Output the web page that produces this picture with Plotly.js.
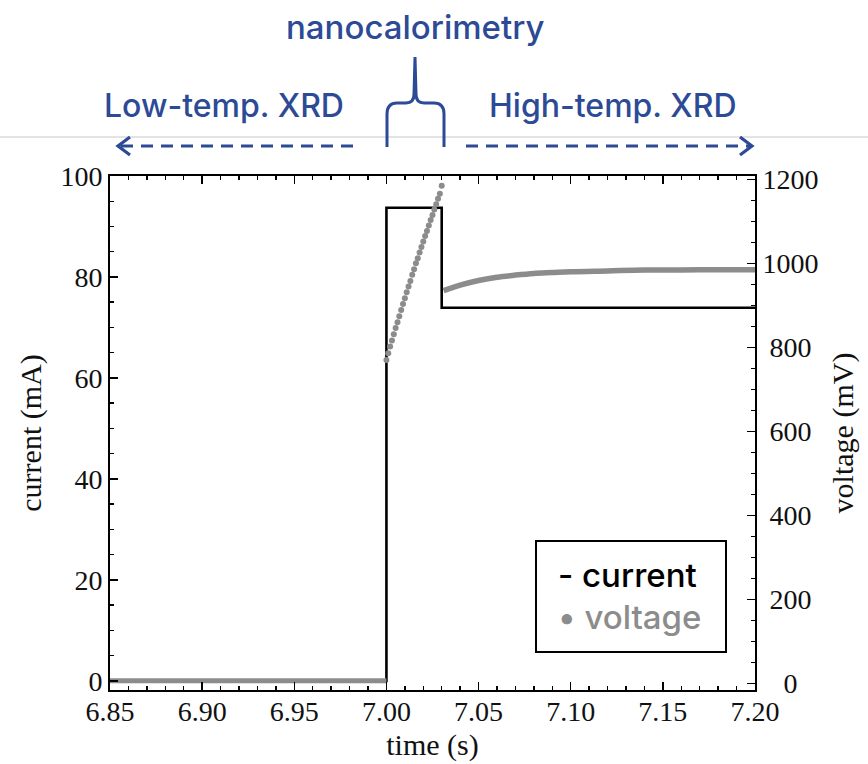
<!DOCTYPE html>
<html>
<head>
<meta charset="utf-8">
<script src="https://cdn.plot.ly/plotly-3.0.1.min.js"></script>
<style>
  html, body { margin: 0; padding: 0; background: #fff; }
  #chart { width: 868px; height: 764px; }
</style>
</head>
<body>
<div id="chart"></div>
<script>
// ---- data ----
const currentTime = [6.85, 7.00, 7.03, 7.20];
const currentValues = [0, 93.7, 73.9, 73.9];           // mA

const baseTime = [6.85, 6.90, 6.95, 7.00];
const baseVoltage = [6, 6, 6, 6];                       // mV

const riseTime = [7.000, 7.001, 7.002, 7.003, 7.004, 7.005, 7.006, 7.007, 7.008, 7.009,
                  7.010, 7.011, 7.012, 7.013, 7.014, 7.015, 7.016, 7.017, 7.018, 7.019,
                  7.020, 7.021, 7.022, 7.023, 7.024, 7.025, 7.026, 7.027, 7.028, 7.029, 7.030];
const riseVoltage = [770, 786, 802, 816, 831, 846, 860, 874, 889, 903,
                     917, 931, 945, 958, 973, 986, 1000, 1012, 1026, 1039,
                     1052, 1065, 1077, 1090, 1103, 1115, 1128, 1141, 1154, 1166, 1185];

const plateauTime = [7.031, 7.040, 7.050, 7.060, 7.070, 7.080, 7.090, 7.100, 7.120, 7.140, 7.160, 7.180, 7.200];
const plateauVoltage = [935, 948, 959, 967, 972, 976, 978, 980, 982, 984, 984, 985, 985];

const xTickLabels = ['6.85', '6.90', '6.95', '7.00', '7.05', '7.10', '7.15', '7.20'];
const xTickValues = [6.85, 6.90, 6.95, 7.00, 7.05, 7.10, 7.15, 7.20];

// right-axis labels are centred in the reference; non-breaking spaces emulate that
const voltageTickValues = [0, 200, 400, 600, 800, 1000, 1200];
const voltageTickLabels = ['\u00a0\u00a0\u00a00', '\u00a0200', '\u00a0400', '\u00a0600', '\u00a0800', '1000', '1200'];

// ---- layout helpers (pixel -> paper) ----
const W = 868, H = 764;
const L = 110, R = 755, T = 176, B = 690;
const px = x => (x - L) / (R - L);
const py = y => (B - y) / (B - T);

const BLUE = '#2c4a96';
const GRAY = '#8c8c8c';
const SERIF = 'Liberation Serif';
const SANS = 'Inter';

const traces = [
  { x: currentTime, y: currentValues, type: 'scatter', mode: 'lines',
    line: { color: '#000', width: 2.6, shape: 'hv' }, yaxis: 'y', showlegend: false, hoverinfo: 'skip' },
  { x: baseTime, y: baseVoltage, type: 'scatter', mode: 'lines',
    line: { color: GRAY, width: 5 }, yaxis: 'y2', showlegend: false, hoverinfo: 'skip' },
  { x: riseTime, y: riseVoltage, type: 'scatter', mode: 'markers',
    marker: { color: GRAY, size: 6 }, yaxis: 'y2', showlegend: false, hoverinfo: 'skip' },
  { x: plateauTime, y: plateauVoltage, type: 'scatter', mode: 'lines',
    line: { color: GRAY, width: 5.5, shape: 'spline', smoothing: 1 }, yaxis: 'y2', showlegend: false, hoverinfo: 'skip' }
];

function bracePath() {
  const pts = [
    ['M', 387, 147], ['L', 387, 114], ['Q', 387, 103, 397, 103], ['L', 406, 103],
    ['Q', 414, 103, 414, 94], ['L', 415, 57], ['L', 416, 94],
    ['Q', 416, 103, 424, 103], ['L', 434, 103], ['Q', 444, 103, 444, 114], ['L', 444, 147]
  ];
  return pts.map(p => {
    let s = p[0] + ' ' + px(p[1]) + ',' + py(p[2]);
    if (p.length > 3) s += ' ' + px(p[3]) + ',' + py(p[4]);
    return s;
  }).join(' ');
}

const shapes = [
  { type: 'line', xref: 'paper', yref: 'paper', x0: px(0), x1: px(868), y0: py(137), y1: py(137),
    line: { color: '#c8c8c8', width: 1 } },
  { type: 'line', xref: 'paper', yref: 'paper', x0: px(121), x1: px(360), y0: py(146), y1: py(146),
    line: { color: BLUE, width: 3.2, dash: '12px,8px' } },
  { type: 'path', xref: 'paper', yref: 'paper',
    path: 'M ' + px(130) + ',' + py(137) + ' L ' + px(118) + ',' + py(146) + ' L ' + px(130) + ',' + py(155),
    line: { color: BLUE, width: 3.2 } },
  { type: 'line', xref: 'paper', yref: 'paper', x0: px(466), x1: px(750), y0: py(146), y1: py(146),
    line: { color: BLUE, width: 3.2, dash: '12px,8px' } },
  { type: 'path', xref: 'paper', yref: 'paper',
    path: 'M ' + px(740) + ',' + py(137) + ' L ' + px(752) + ',' + py(146) + ' L ' + px(740) + ',' + py(155),
    line: { color: BLUE, width: 3.2 } },
  { type: 'path', xref: 'paper', yref: 'paper', path: bracePath(), line: { color: BLUE, width: 3 } },
  { type: 'rect', xref: 'paper', yref: 'paper', x0: px(536), x1: px(726), y0: py(652), y1: py(541),
    line: { color: '#000', width: 2 }, fillcolor: 'rgba(255,255,255,1)', layer: 'above' }
];

const annotations = [
  { text: 'nanocalorimetry', xref: 'paper', yref: 'paper', x: px(415), y: py(27), xanchor: 'center', yanchor: 'middle',
    showarrow: false, font: { family: SANS, size: 33, color: BLUE, weight: 500 } },
  { text: 'Low-temp. XRD', xref: 'paper', yref: 'paper', x: px(224), y: py(105), xanchor: 'center', yanchor: 'middle',
    showarrow: false, font: { family: SANS, size: 32, color: BLUE, weight: 500 } },
  { text: 'High-temp. XRD', xref: 'paper', yref: 'paper', x: px(613), y: py(105), xanchor: 'center', yanchor: 'middle',
    showarrow: false, font: { family: SANS, size: 32, color: BLUE, weight: 500 } },
  { text: '- current', xref: 'paper', yref: 'paper', x: px(556), y: py(575), xanchor: 'left', yanchor: 'middle',
    showarrow: false, font: { family: SANS, size: 33, color: '#000', weight: 500 } },
  { text: '• voltage', xref: 'paper', yref: 'paper', x: px(556), y: py(617), xanchor: 'left', yanchor: 'middle',
    showarrow: false, font: { family: SANS, size: 33, color: GRAY, weight: 500 } }
];

const tickFont = { family: SERIF, size: 28, color: '#111' };
const titleFont = { family: SERIF, size: 30, color: '#111' };

const layout = {
  width: W, height: H,
  margin: { l: L, r: W - R, t: T, b: H - B, pad: 0 },
  paper_bgcolor: '#fff', plot_bgcolor: '#fff',
  showlegend: false,
  xaxis: {
    range: [6.85, 7.20], tickvals: xTickValues, ticktext: xTickLabels,
    ticks: 'inside', ticklen: 8, tickwidth: 1.5, tickcolor: '#000',
    minor: { dtick: 0.01, tick0: 6.85, ticks: 'inside', ticklen: 4, tickwidth: 1.5, tickcolor: '#000', showgrid: false },
    showline: true, linecolor: '#000', linewidth: 2, mirror: 'ticks',
    showgrid: false, zeroline: false,
    tickfont: tickFont, ticklabelstandoff: -5,
    title: { text: 'time (s)', font: titleFont, standoff: 8 },
    automargin: false
  },
  yaxis: {
    range: [-1.8, 100], dtick: 20, tick0: 0,
    ticks: 'inside', ticklen: 8, tickwidth: 1.5, tickcolor: '#000',
    minor: { dtick: 5, ticks: 'inside', ticklen: 4, tickwidth: 1.5, tickcolor: '#000', showgrid: false },
    showline: true, linecolor: '#000', linewidth: 2,
    showgrid: false, zeroline: false,
    tickfont: tickFont,
    title: { text: 'current (mA)', font: titleFont, standoff: 10 },
    automargin: false
  },
  yaxis2: {
    overlaying: 'y', side: 'right',
    range: [-16, 1208], tickvals: voltageTickValues, ticktext: voltageTickLabels,
    ticks: 'inside', ticklen: 8, tickwidth: 1.5, tickcolor: '#000',
    minor: { dtick: 50, tick0: 0, ticks: 'inside', ticklen: 4, tickwidth: 1.5, tickcolor: '#000', showgrid: false },
    showline: true, linecolor: '#000', linewidth: 2,
    showgrid: false, zeroline: false,
    tickfont: tickFont,
    title: { text: 'voltage (mV)', font: titleFont, standoff: 14 },
    automargin: false
  },
  shapes: shapes,
  annotations: annotations
};

Plotly.newPlot('chart', traces, layout, { staticPlot: true, displayModeBar: false });
</script>
</body>
</html>
